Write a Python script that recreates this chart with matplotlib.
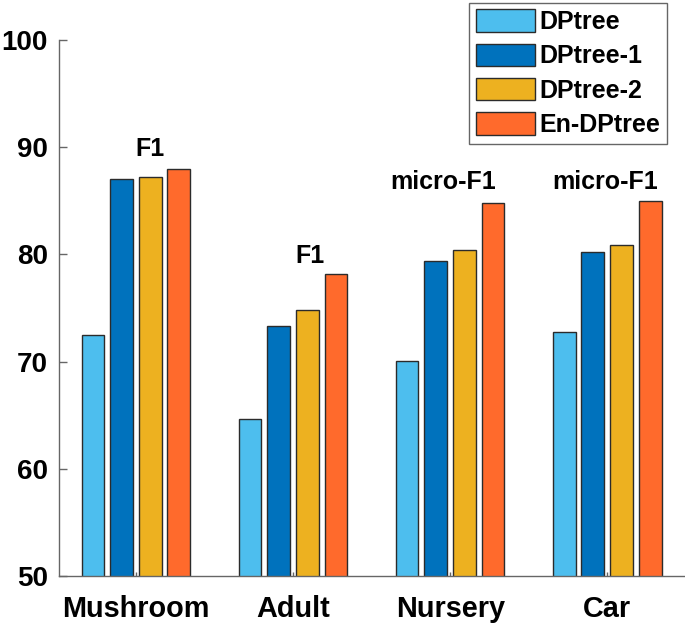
import matplotlib
matplotlib.use("Agg")
import matplotlib.pyplot as plt
import numpy as np

plt.rcParams['font.family'] = ['Liberation Sans', 'DejaVu Sans']

categories = ["Mushroom", "Adult", "Nursery", "Car"]
series_names = ["DPtree", "DPtree-1", "DPtree-2", "En-DPtree"]
dptree = [72.5, 64.6, 70.1, 72.75]
dptree1 = [87.0, 73.3, 79.35, 80.25]
dptree2 = [87.25, 74.85, 80.4, 80.9]
en_dptree = [88.0, 78.2, 84.8, 85.0]
annot_texts = ["F1", "F1", "micro-F1", "micro-F1"]
annot_x = [1.09, 2.108, 2.958, 3.984]
annot_y = [89.83, 79.88, 86.75, 86.75]

colors = ["#4DBEEE", "#0072BD", "#EDB120", "#FF6A2C"]
series = [dptree, dptree1, dptree2, en_dptree]

fig = plt.figure(figsize=(6.85, 6.27), dpi=100)
ax = fig.add_axes([59/685, 51/627, 626/685, 536/627])

x = np.arange(1, len(categories) + 1)
offsets = [-0.274, -0.0925, 0.0915, 0.273]
width = 0.145
for vals, off, c, name in zip(series, offsets, colors, series_names):
    ax.bar(x + off, vals, width=width, color=c, edgecolor="#2b2b2b",
           linewidth=1.0, label=name, zorder=2)

for t, tx, ty in zip(annot_texts, annot_x, annot_y):
    ax.text(tx, ty, t, ha="center", va="center", fontsize=18, fontweight="bold")

ax.set_xlim(0.51, 4.495)
ax.set_ylim(50, 100)
ax.set_xticks(x)
ax.set_xticklabels(categories)
ax.set_yticks([50, 60, 70, 80, 90, 100])

for s in ["top", "right"]:
    ax.spines[s].set_visible(False)
for s in ["left", "bottom"]:
    ax.spines[s].set_color("#666666")
    ax.spines[s].set_linewidth(1.0)
    ax.spines[s].set_zorder(3)

ax.tick_params(axis="y", direction="in", length=6, width=1, color="#666666",
               labelsize=20, pad=8)
ax.tick_params(axis="x", direction="in", length=3, width=1, color="#666666",
               labelsize=20.8, pad=14)
for lab in ax.get_xticklabels() + ax.get_yticklabels():
    lab.set_fontweight("bold")

leg = ax.legend(loc="upper right", bbox_to_anchor=(667/685, 1 - 2.7/627),
                bbox_transform=fig.transFigure,
                prop={"weight": "bold", "size": 18},
                handlelength=2.35, handleheight=1.0, handletextpad=0.18,
                labelspacing=0.38, borderpad=0.27, borderaxespad=0,
                fancybox=False, framealpha=1, edgecolor="#666666")
leg.get_frame().set_linewidth(1.0)

fig.savefig("out.png", dpi=100)
